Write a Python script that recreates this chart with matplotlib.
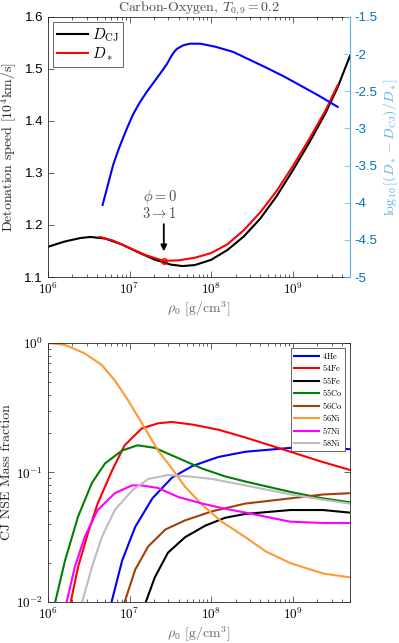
import numpy as np
import matplotlib
matplotlib.use("Agg")
import matplotlib.pyplot as plt
from matplotlib.ticker import FixedLocator, LogLocator, NullFormatter

plt.rcParams['font.family'] = 'Liberation Sans'
plt.rcParams['mathtext.fontset'] = 'cm'
plt.rcParams['axes.unicode_minus'] = False

# ---- top panel data: log10(rho0) vs detonation speed ----
logrho_cj = [6.0, 6.2, 6.4, 6.52, 6.7, 6.9, 7.1, 7.3, 7.5, 7.65, 7.8, 8.0, 8.2,
             8.4, 8.6, 8.8, 9.0, 9.2, 9.4, 9.55, 9.7]
D_cj = [1.158, 1.168, 1.175, 1.177, 1.174, 1.163, 1.148, 1.134, 1.124, 1.121,
        1.123, 1.133, 1.152, 1.178, 1.212, 1.255, 1.305, 1.358, 1.415, 1.465, 1.525]

logrho_star = [6.64, 6.8, 7.0, 7.2, 7.42, 7.6, 7.8, 8.0, 8.2, 8.4, 8.6, 8.8,
               9.0, 9.2, 9.4, 9.55]
D_star = [1.177, 1.170, 1.156, 1.142, 1.131, 1.132, 1.137, 1.146, 1.163, 1.190,
          1.224, 1.265, 1.313, 1.365, 1.420, 1.469]

logrho_diff = [6.67, 6.74, 6.80, 6.86, 6.92, 6.98, 7.04, 7.12, 7.21, 7.31, 7.41,
               7.46, 7.50, 7.54, 7.58, 7.66, 7.74, 7.87, 8.05, 8.27, 8.48, 8.69,
               8.89, 9.09, 9.32, 9.55]
log_diff = [-4.03, -3.74, -3.49, -3.30, -3.13, -2.97, -2.82, -2.66, -2.51, -2.36,
            -2.21, -2.13, -2.05, -1.98, -1.93, -1.88, -1.86, -1.86, -1.90, -1.97,
            -2.08, -2.19, -2.30, -2.42, -2.56, -2.71]

# phi = 0, 3 -> 1 point
logrho_mark = 7.42
D_mark = 1.131

# ---- bottom panel data: log10(rho0) vs log10(mass fraction) ----
species = ['4He', '54Fe', '55Fe', '55Co', '56Co', '56Ni', '57Ni', '58Ni']
colors = ['#0000ff', '#ff0000', '#000000', '#008000', '#a0400a', '#ff9933',
          '#ff00ff', '#bdbdbd']

lr_he4 = [6.78, 6.91, 7.07, 7.28, 7.52, 7.77, 8.09, 8.42, 8.97, 9.37, 9.7]
x_he4 = [-2.0, -1.68, -1.42, -1.20, -1.04, -0.95, -0.88, -0.84, -0.81, -0.81, -0.82]

lr_fe54 = [6.28, 6.37, 6.49, 6.61, 6.79, 6.94, 7.15, 7.35, 7.52, 7.77, 8.09, 8.42,
           8.97, 9.37, 9.7]
x_fe54 = [-2.0, -1.73, -1.47, -1.24, -0.98, -0.79, -0.66, -0.62, -0.61, -0.63, -0.67,
          -0.73, -0.84, -0.92, -0.98]

lr_fe55 = [7.20, 7.31, 7.47, 7.68, 7.93, 8.17, 8.42, 8.97, 9.37, 9.7]
x_fe55 = [-2.0, -1.81, -1.62, -1.50, -1.41, -1.35, -1.32, -1.29, -1.29, -1.31]

lr_co55 = [6.09, 6.21, 6.37, 6.54, 6.70, 6.91, 7.10, 7.31, 7.60, 7.89, 8.17, 8.42,
           8.97, 9.37, 9.7]
x_co55 = [-2.0, -1.68, -1.34, -1.08, -0.93, -0.83, -0.79, -0.81, -0.89, -0.97, -1.03,
          -1.07, -1.15, -1.20, -1.23]

lr_co56 = [6.94, 7.07, 7.23, 7.44, 7.68, 8.01, 8.42, 8.97, 9.37, 9.7]
x_co56 = [-2.0, -1.75, -1.57, -1.44, -1.37, -1.30, -1.24, -1.20, -1.17, -1.16]

lr_ni56 = [6.0, 6.21, 6.45, 6.66, 6.82, 6.98, 7.19, 7.35, 7.52, 7.68, 7.89, 8.13,
           8.42, 8.67, 8.97, 9.37, 9.7]
x_ni56 = [0.0, -0.015, -0.08, -0.17, -0.29, -0.44, -0.66, -0.83, -0.97, -1.11, -1.25,
          -1.38, -1.50, -1.61, -1.70, -1.78, -1.81]

lr_ni57 = [6.23, 6.33, 6.45, 6.61, 6.82, 7.03, 7.15, 7.35, 7.60, 7.89, 8.17, 8.42,
           8.97, 9.37, 9.7]
x_ni57 = [-2.0, -1.73, -1.50, -1.29, -1.16, -1.10, -1.10, -1.12, -1.19, -1.24, -1.28,
          -1.31, -1.38, -1.39, -1.39]

lr_ni58 = [6.42, 6.54, 6.66, 6.82, 7.03, 7.23, 7.47, 7.72, 8.01, 8.42, 8.97, 9.37, 9.7]
x_ni58 = [-2.0, -1.73, -1.50, -1.29, -1.14, -1.05, -1.02, -1.03, -1.05, -1.10, -1.17,
          -1.21, -1.24]

abund = [(lr_he4, x_he4), (lr_fe54, x_fe54), (lr_fe55, x_fe55), (lr_co55, x_co55),
         (lr_co56, x_co56), (lr_ni56, x_ni56), (lr_ni57, x_ni57), (lr_ni58, x_ni58)]

axc = '0.15'
blue_tick = (0.0, 0.447, 0.741)
blue_light = (0.35, 0.7, 0.9)
serif = 'cmr10'
xdec = [1e6, 1e7, 1e8, 1e9]
xdec_lab = [r'$\mathsf{10^{%d}}$' % k for k in range(6, 10)]


def style_axes(ax):
    for s in ax.spines.values():
        s.set_color(axc)
        s.set_linewidth(0.6)
    ax.tick_params(which='both', direction='in', colors=axc, labelcolor='black',
                   labelsize=9.5, top=True)
    ax.tick_params(which='major', length=4, width=0.5)
    ax.tick_params(which='minor', length=2, width=0.5)


fig = plt.figure(figsize=(3.99, 6.43), dpi=100)

# ---------- top ----------
ax1 = fig.add_axes([0.120, 0.5692, 0.757, 0.4044])
ax1.plot(10 ** np.array(logrho_cj), D_cj, color='k', lw=1.5, label=r'$D_{\rm CJ}$')
ax1.plot(10 ** np.array(logrho_star), D_star, color='r', lw=1.5, label=r'$D_*$')
ax1.plot(10 ** logrho_mark, D_mark, 'o', mfc='none', mec='r', ms=4, mew=1)
ax1.set_xscale('log')
ax1.set_xlim(1e6, 10 ** 9.7)
ax1.set_ylim(1.1, 1.6)
ax1.yaxis.set_major_locator(FixedLocator([1.1, 1.2, 1.3, 1.4, 1.5, 1.6]))
ax1.set_yticklabels(['1.1', '1.2', '1.3', '1.4', '1.5', '1.6'])
ax1.xaxis.set_major_locator(FixedLocator(xdec))
ax1.set_xticklabels(xdec_lab)
ax1.xaxis.set_minor_locator(LogLocator(base=10, subs=np.arange(2, 10)))
ax1.xaxis.set_minor_formatter(NullFormatter())
style_axes(ax1)
ax1.tick_params(right=False)
ax1.spines['right'].set_visible(False)
ax1.set_ylabel('Detonation speed [$10^4$km/s]', fontfamily=serif, fontsize=10,
               color='0.15', labelpad=4)
ax1.set_xlabel(r'$\rho_0$ [g/cm$^3$]', fontfamily=serif, fontsize=10, color='0.4',
               labelpad=2)
ax1.set_title(r'Carbon-Oxygen, $T_{0,9} = 0.2$', fontfamily=serif, fontsize=10,
              color='0.3', pad=3)
leg1 = ax1.legend(loc='upper left', fontsize=11, handlelength=2.0, handletextpad=0.3,
                  borderaxespad=0.35, borderpad=0.25, labelspacing=0.1, fancybox=False,
                  edgecolor='0.3', framealpha=1)
leg1.get_frame().set_linewidth(0.6)

ax1.annotate('', xy=(10 ** logrho_mark, 1.144), xytext=(10 ** logrho_mark, 1.207),
             arrowprops=dict(arrowstyle='-|>', color='k', lw=1.3, mutation_scale=9))
ax1.text(10 ** 7.37, 1.254, r'$\phi = 0$', ha='center', va='center', fontsize=10.5,
         color='0.3')
ax1.text(10 ** 7.37, 1.222, r'$3 \rightarrow 1$', ha='center', va='center',
         fontsize=10.5, color='0.3')

ax2 = ax1.twinx()
ax2.plot(10 ** np.array(logrho_diff), log_diff, color='#0000ff', lw=1.5)
ax2.set_ylim(-5, -1.5)
rt = [-5, -4.5, -4, -3.5, -3, -2.5, -2, -1.5]
ax2.yaxis.set_major_locator(FixedLocator(rt))
ax2.set_yticklabels(['%g' % v for v in rt])
for s in ax2.spines.values():
    s.set_visible(False)
ax2.spines['right'].set_visible(True)
ax2.spines['right'].set_color(blue_light)
ax2.spines['right'].set_linewidth(0.8)
ax2.tick_params(axis='y', direction='in', colors=blue_light, labelcolor=blue_tick,
                labelsize=9.5, length=4, width=0.5)
ax2.set_ylabel(r'$\log_{10}[(D_* - D_{\rm CJ})/D_*]$', fontsize=10, color=blue_light,
               labelpad=3)

# ---------- bottom ----------
ax3 = fig.add_axes([0.120, 0.0638, 0.757, 0.4028])
for name, col, (lr, lx) in zip(species, colors, abund):
    ax3.plot(10 ** np.array(lr), 10 ** np.array(lx), color=col, lw=1.5,
             label=r'$\mathrm{%s}$' % name)
ax3.set_xscale('log')
ax3.set_yscale('log')
ax3.set_xlim(1e6, 10 ** 9.7)
ax3.set_ylim(1e-2, 1)
ax3.xaxis.set_major_locator(FixedLocator(xdec))
ax3.set_xticklabels(xdec_lab)
ax3.xaxis.set_minor_locator(LogLocator(base=10, subs=np.arange(2, 10)))
ax3.xaxis.set_minor_formatter(NullFormatter())
ax3.yaxis.set_major_locator(FixedLocator([1e-2, 1e-1, 1]))
ax3.set_yticklabels([r'$\mathsf{10^{-2}}$', r'$\mathsf{10^{-1}}$', r'$\mathsf{10^{0}}$'])
ax3.yaxis.set_minor_locator(LogLocator(base=10, subs=np.arange(2, 10)))
ax3.yaxis.set_minor_formatter(NullFormatter())
style_axes(ax3)
ax3.tick_params(right=True)
ax3.set_ylabel('CJ NSE Mass fraction', fontfamily=serif, fontsize=10, color='0.15',
               labelpad=2)
ax3.set_xlabel(r'$\rho_0$ [g/cm$^3$]', fontfamily=serif, fontsize=10, color='0.4',
               labelpad=2)
leg3 = ax3.legend(loc='upper right', fontsize=6, handlelength=3.0, handletextpad=0.3,
                  borderaxespad=0.6, borderpad=0.35, labelspacing=0.18, fancybox=False,
                  edgecolor='0.3', framealpha=1)
leg3.get_frame().set_linewidth(0.6)

fig.savefig('out.png', dpi=100)
